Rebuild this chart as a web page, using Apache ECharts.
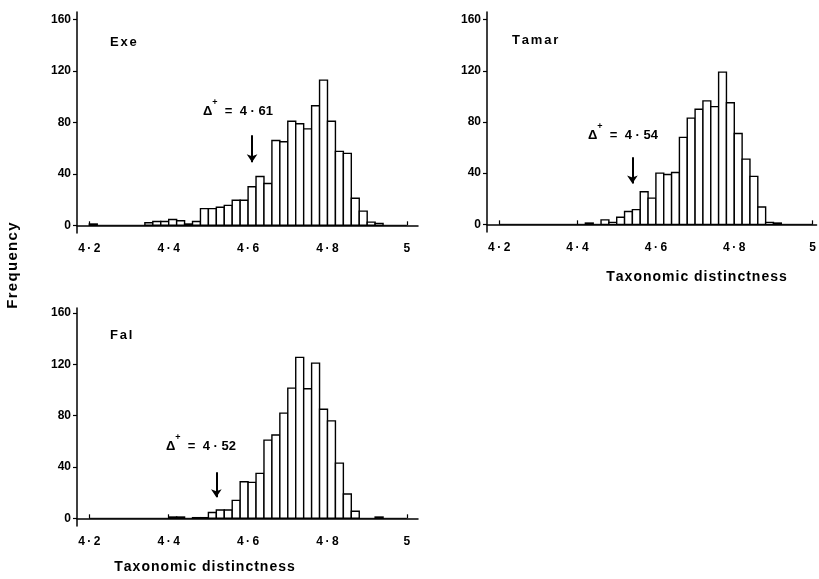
<!DOCTYPE html>
<html>
<head>
<meta charset="utf-8">
<title>Taxonomic distinctness</title>
<script src="https://cdn.jsdelivr.net/npm/echarts@6/dist/echarts.min.js"></script>
<style>html,body{margin:0;background:#fff}#main{width:819px;height:579px}</style>
</head>
<body>
<div id="main"></div>
<script>
// histogram bins (left edge) and frequencies, bin width 0.02
var exeBins = [4.20, 4.34, 4.36, 4.38, 4.40, 4.42, 4.44, 4.46, 4.48, 4.50, 4.52, 4.54, 4.56, 4.58,
  4.60, 4.62, 4.64, 4.66, 4.68, 4.70, 4.72, 4.74, 4.76, 4.78, 4.80, 4.82, 4.84, 4.86, 4.88, 4.90, 4.92];
var exeCounts = [1, 2, 3, 3, 4.5, 3.5, 1, 3, 13, 13, 14, 15.5, 19.5, 19.5,
  30, 38, 32.5, 66, 65, 81, 79, 75, 93, 113, 81, 57.5, 56, 21, 11, 2.5, 1.5];

var tamarBins = [4.42, 4.46, 4.48, 4.50, 4.52, 4.54, 4.56, 4.58, 4.60, 4.62, 4.64, 4.66,
  4.68, 4.70, 4.72, 4.74, 4.76, 4.78, 4.80, 4.82, 4.84, 4.86, 4.88, 4.90];
var tamarCounts = [1, 3.5, 1.5, 5.5, 10, 11.5, 25.5, 20.5, 40, 39, 40.5, 68,
  83, 90, 96.5, 92, 119, 95, 71, 51, 37.5, 13.5, 1.5, 1];

var falBins = [4.40, 4.42, 4.46, 4.48, 4.50, 4.52, 4.54, 4.56, 4.58, 4.60, 4.62, 4.64, 4.66,
  4.68, 4.70, 4.72, 4.74, 4.76, 4.78, 4.80, 4.82, 4.84, 4.86, 4.92];
var falCounts = [1, 1, 0.5, 0.5, 4.5, 6.5, 6.5, 14, 28.5, 28, 35, 61, 65,
  82, 101.5, 125.5, 101, 121, 85, 76, 43, 19, 5.5, 1];

var deltaPlus = [4.61, 4.54, 4.52];          // Exe, Tamar, Fal
var arrowFrom = [70, 52.5, 36];
var arrowTo = [49, 32, 16.5];
var panelNames = ['Exe', 'Tamar', 'Fal'];
var xTicks = [4.2, 4.4, 4.6, 4.8, 5];
var yTicks = [0, 40, 80, 120, 160];
var baseline = [[4.2, 0], [5, 0]];
var BIN = 0.02;

var FONT = 'Liberation Sans';
var chart = echarts.init(document.getElementById('main'));

function pairs(bins, counts) {
  return bins.map(function (b, i) { return [b, counts[i]]; });
}

function histItem(params, api) {
  var x0 = api.value(0), v = api.value(1);
  var a = api.coord([x0, v]);
  var b = api.coord([x0 + BIN, 0]);
  return {
    type: 'rect',
    shape: { x: a[0], y: a[1], width: b[0] - a[0], height: b[1] - a[1] },
    style: { fill: '#fff', stroke: '#000', lineWidth: 1.4 }
  };
}

// spread letters a little, the figure uses tracked lettering
function tracked(str) {
  return str.split('').map(function (c) { return '{c|' + c + '}'; }).join('');
}

function tickFmt(v) {
  var s = String(v);
  if (s.indexOf('.') < 0) return s;
  var p = s.split('.');
  return p[0] + '{d|·}' + p[1];
}

var grids = [
  { left: 77, top: 12, width: 341, height: 221 },
  { left: 487, top: 12, width: 332, height: 220 },
  { left: 77, top: 308, width: 341, height: 218 }
];
var xMax = [5.028, 5.01, 5.028];
var yMax = [166, 166, 164];

var xAxes = [], yAxes = [], series = [];
[0, 1, 2].forEach(function (i) {
  xAxes.push({
    type: 'value', gridIndex: i, min: 4.169, max: xMax[i],
    axisLine: { lineStyle: { color: '#000', width: 1.5 } },
    axisTick: { inside: true, length: 4, customValues: xTicks, lineStyle: { color: '#000', width: 1.2 } },
    axisLabel: {
      customValues: xTicks, margin: 10, formatter: tickFmt, color: '#000',
      fontFamily: FONT, fontWeight: 'bold', fontSize: 12,
      rich: { d: { fontFamily: FONT, fontWeight: 'bold', fontSize: 12, color: '#000', padding: [0, 2.5, 0, 2.5] } }
    },
    splitLine: { show: false }
  });
  yAxes.push({
    type: 'value', gridIndex: i, min: -6, max: yMax[i],
    axisLine: { show: true, lineStyle: { color: '#000', width: 1.5 } },
    axisTick: { show: true, length: 4, customValues: yTicks, lineStyle: { color: '#000', width: 1.2 } },
    axisLabel: {
      customValues: yTicks, margin: 6, color: '#000',
      fontFamily: FONT, fontWeight: 'bold', fontSize: 12
    },
    splitLine: { show: false }
  });
});

var allPairs = [pairs(exeBins, exeCounts), pairs(tamarBins, tamarCounts), pairs(falBins, falCounts)];
allPairs.forEach(function (d, i) {
  series.push({
    type: 'line', xAxisIndex: i, yAxisIndex: i, data: baseline,
    symbol: 'none', silent: true, z: 1,
    lineStyle: { color: '#000', width: 1 },
    markLine: {
      silent: true, symbol: ['none', 'arrow'], symbolSize: 8, precision: 3,
      label: { show: false },
      lineStyle: { color: '#000', width: 2, type: 'solid' },
      data: [[{ coord: [deltaPlus[i], arrowFrom[i]] }, { coord: [deltaPlus[i], arrowTo[i]] }]]
    }
  });
  series.push({
    type: 'custom', xAxisIndex: i, yAxisIndex: i, data: d,
    renderItem: histItem, silent: true, z: 2
  });
});

var richTitle = { c: { fontFamily: FONT, fontWeight: 'bold', fontSize: 13, color: '#000', padding: [0, 1.8, 0, 0] } };
var richAxisTitle = { c: { fontFamily: FONT, fontWeight: 'bold', fontSize: 14, color: '#000', padding: [0, 1, 0, 0] } };
var richFreq = { c: { fontFamily: FONT, fontWeight: 'bold', fontSize: 15, color: '#000', padding: [0, 1.3, 0, 0] } };
var richDelta = {
  d: { fontFamily: FONT, fontWeight: 'bold', fontSize: 13, color: '#000', verticalAlign: 'bottom', lineHeight: 20 },
  s: { fontFamily: FONT, fontWeight: 'bold', fontSize: 9, color: '#000', verticalAlign: 'top', lineHeight: 20 },
  t: { fontFamily: FONT, fontWeight: 'bold', fontSize: 13, color: '#000', verticalAlign: 'bottom', lineHeight: 20 }
};

function deltaText(v) {
  return '{d|Δ}{s|+}{t|  =  ' + String(v).replace('.', ' · ') + '}';
}

var titlePos = [[110, 42], [512, 40], [110, 335]];
var deltaPos = [[203, 108], [588, 132], [166, 443]];
var graphic = [];
[0, 1, 2].forEach(function (i) {
  graphic.push({
    type: 'text', x: titlePos[i][0], y: titlePos[i][1],
    style: { text: tracked(panelNames[i]), rich: richTitle, verticalAlign: 'middle' }
  });
  graphic.push({
    type: 'text', x: deltaPos[i][0], y: deltaPos[i][1],
    style: { text: deltaText(deltaPlus[i]), rich: richDelta, verticalAlign: 'middle' }
  });
});
graphic.push({
  type: 'text', x: 13, y: 265, rotation: Math.PI / 2,
  style: { text: tracked('Frequency'), rich: richFreq, align: 'center', verticalAlign: 'middle' }
});
graphic.push({
  type: 'text', x: 697, y: 277,
  style: { text: tracked('Taxonomic distinctness'), rich: richAxisTitle, align: 'center', verticalAlign: 'middle' }
});
graphic.push({
  type: 'text', x: 205, y: 567,
  style: { text: tracked('Taxonomic distinctness'), rich: richAxisTitle, align: 'center', verticalAlign: 'middle' }
});

chart.setOption({
  animation: false,
  backgroundColor: '#fff',
  grid: grids,
  xAxis: xAxes,
  yAxis: yAxes,
  series: series,
  graphic: graphic
});
</script>
</body>
</html>
